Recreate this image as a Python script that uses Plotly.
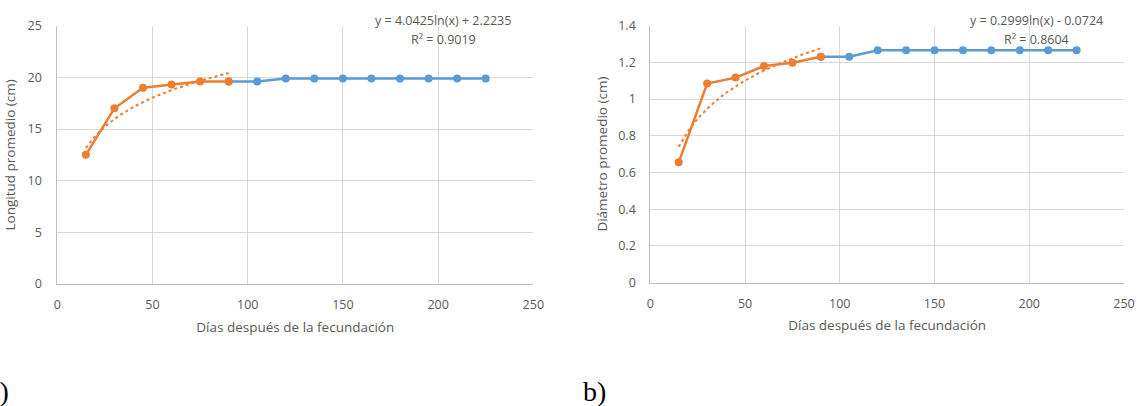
import numpy as np
import plotly.graph_objects as go

# ---- data ----
days_early = [15, 30, 45, 60, 75, 90]
days_late = [90, 105, 120, 135, 150, 165, 180, 195, 210, 225]

length_early = [12.5, 17.0, 19.0, 19.3, 19.6, 19.6]
length_late = [19.6, 19.6, 19.9, 19.9, 19.9, 19.9, 19.9, 19.9, 19.9, 19.9]

diam_early = [0.655, 1.085, 1.117, 1.18, 1.198, 1.231]
diam_late = [1.231, 1.231, 1.266, 1.266, 1.266, 1.266, 1.266, 1.266, 1.266, 1.266]

# trendline coefficients shown in the chart: y = a*ln(x) + b
len_fit = (4.0425, 2.2235, 0.9019)
diam_fit = (0.2999, -0.0724, 0.8604)

x_ticks = [0, 50, 100, 150, 200, 250]
len_ticks = [0, 5, 10, 15, 20, 25]
diam_ticks = [0, 0.2, 0.4, 0.6, 0.8, 1, 1.2, 1.4]
diam_tick_text = ["0", "0.2", "0.4", "0.6", "0.8", "1", "1.2", "1.4"]

x_title = "Días después de la fecundación"
len_title = "Longitud promedio (cm)"
diam_title = "Diámetro promedio (cm)"

ORANGE = "#ED7D31"
BLUE = "#5B9BD5"
GRID = "#D9D9D9"
AXIS = "#BFBFBF"
TXT = "#595959"
FONT = "Open Sans"

fig = go.Figure()

def add_panel(xa, ya, early, late, fit):
    fig.add_trace(go.Scatter(x=days_late, y=late, mode="lines+markers",
                             line=dict(color=BLUE, width=2.5),
                             marker=dict(color=BLUE, size=8),
                             xaxis=xa, yaxis=ya, showlegend=False))
    xs = np.linspace(days_early[0], days_early[-1], 120)
    ys = fit[0] * np.log(xs) + fit[1]
    fig.add_trace(go.Scatter(x=xs, y=ys, mode="lines",
                             line=dict(color=ORANGE, width=2, dash="dot"),
                             xaxis=xa, yaxis=ya, showlegend=False))
    fig.add_trace(go.Scatter(x=days_early, y=early, mode="lines+markers",
                             line=dict(color=ORANGE, width=2.5),
                             marker=dict(color=ORANGE, size=8),
                             xaxis=xa, yaxis=ya, showlegend=False))

add_panel("x", "y", length_early, length_late, len_fit)
add_panel("x2", "y2", diam_early, diam_late, diam_fit)

W, H = 1137, 406
def fx(px):
    return px / W
def fy(py):
    return 1 - py / H

TICK_SIZE = 12.5
TITLE_SIZE = 13.5

axis_common = dict(showgrid=True, gridcolor=GRID, gridwidth=1,
                   showline=True, linecolor=AXIS, linewidth=1,
                   zeroline=False, ticks="", automargin=False,
                   tickfont=dict(family=FONT, size=TICK_SIZE, color=TXT))
title_font = dict(family=FONT, size=TITLE_SIZE, color=TXT)

fig.update_layout(
    width=W, height=H,
    margin=dict(l=0, r=0, t=0, b=0, autoexpand=False),
    paper_bgcolor="white", plot_bgcolor="white",
    xaxis=dict(domain=[fx(57.3), fx(533.3)], range=[0, 250], tickvals=x_ticks,
               anchor="y", ticklabelstandoff=9,
               title=dict(text=x_title, font=title_font, standoff=10),
               **axis_common),
    yaxis=dict(domain=[fy(284), fy(25.7)], range=[0, 25], tickvals=len_ticks,
               anchor="x", ticklabelstandoff=12,
               title=dict(text=len_title, font=title_font, standoff=8),
               **axis_common),
    xaxis2=dict(domain=[fx(650.3), fx(1124)], range=[0, 250], tickvals=x_ticks,
                anchor="y2", ticklabelstandoff=9,
                title=dict(text=x_title, font=title_font, standoff=10),
                **axis_common),
    yaxis2=dict(domain=[fy(282.5), fy(25.7)], range=[0, 1.4], tickvals=diam_ticks,
                ticktext=diam_tick_text, anchor="x2", ticklabelstandoff=11,
                title=dict(text=diam_title, font=title_font, standoff=7),
                **axis_common),
)

ann_font = dict(family=FONT, size=12.5, color=TXT)
def eq_text(fit):
    a, b, r2 = fit
    sign = "+" if b >= 0 else "-"
    return f"y = {a:.4f}ln(x) {sign} {abs(b):.4f}", f"R² = {r2:.4f}"

for fit, cx in [(len_fit, 443), (diam_fit, 1036)]:
    l1, l2 = eq_text(fit)
    fig.add_annotation(text=l1, x=fx(cx), y=fy(21), xref="paper", yref="paper",
                       showarrow=False, font=ann_font, xanchor="center", yanchor="middle")
    fig.add_annotation(text=l2, x=fx(cx), y=fy(39), xref="paper", yref="paper",
                       showarrow=False, font=ann_font, xanchor="center", yanchor="middle")

lab_font = dict(family="Liberation Serif", size=28, color="#000000")
fig.add_annotation(text="a)", x=fx(11), y=fy(391), xref="paper", yref="paper",
                   showarrow=False, font=lab_font, xanchor="right", yanchor="middle")
fig.add_annotation(text="b)", x=fx(581), y=fy(391), xref="paper", yref="paper",
                   showarrow=False, font=lab_font, xanchor="left", yanchor="middle")

fig.write_html("out.html",
               config={"displayModeBar": False},
               post_script="document.body.style.margin='0';"
                           "document.body.style.overflow='hidden';")
